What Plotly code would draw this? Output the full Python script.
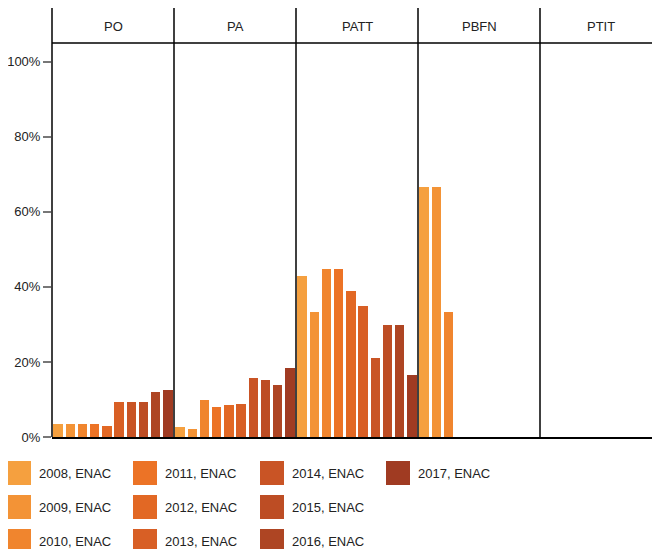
import plotly.graph_objects as go
from plotly.subplots import make_subplots

# data (percent)
facets = ["PO", "PA", "PATT", "PBFN", "PTIT"]
years = [2008, 2009, 2010, 2011, 2012, 2013, 2014, 2015, 2016, 2017]
po_vals = [3.5, 3.5, 3.5, 3.5, 2.9, 9.3, 9.3, 9.3, 12.0, 12.5]
pa_vals = [2.7, 2.1, 9.9, 8.0, 8.5, 8.8, 15.7, 15.2, 13.9, 18.4]
patt_vals = [42.9, 33.3, 44.8, 44.8, 38.9, 34.9, 21.1, 29.9, 29.9, 16.5]
pbfn_vals = [66.7, 66.7, 33.3, None, None, None, None, None, None, None]
ptit_vals = [None] * 10
facet_vals = [po_vals, pa_vals, patt_vals, pbfn_vals, ptit_vals]
colors = ["#F5A03F", "#F39336", "#F0852E", "#EC7326", "#E26824",
          "#D85F25", "#C95425", "#BD4D24", "#AE4523", "#A03B22"]
labels = [f"{y}, ENAC" for y in years]

FONT = "Liberation Sans, Arial, sans-serif"
OFF = 8  # page margin around the plot div
W, H = 654, 541
L, R, T, B = 44, 0, 35, 112
pw, ph = W - L - R, H - T - B


# screen pixel -> paper coords
def px_x(x):
    return (x - OFF - L) / pw


def px_y(y):
    return (H - B - (y - OFF)) / ph


fig = make_subplots(rows=1, cols=5, shared_yaxes=True, horizontal_spacing=0)

for c, vals in enumerate(facet_vals):
    for i, y in enumerate(years):
        fig.add_trace(go.Bar(x=[y], y=[vals[i]], width=0.78, marker_color=colors[i],
                             marker_line_width=0, name=labels[i], showlegend=False,
                             hoverinfo="skip"), row=1, col=c + 1)

fig.update_xaxes(range=[2007.5, 2017.5], showticklabels=False, ticks="", showgrid=False,
                 zeroline=False, showline=True, linecolor="black", linewidth=2)
fig.update_yaxes(range=[0, 105], showgrid=False, zeroline=False)
fig.update_yaxes(tickvals=[0, 20, 40, 60, 80, 100],
                 ticktext=["0%", "20%", "40%", "60%", "80%", "100%"],
                 ticks="outside", ticklen=8, tickcolor="#777", tickwidth=1.5,
                 tickfont=dict(family=FONT, size=13, color="#222"),
                 showline=False, row=1, col=1)

shapes = []
top = px_y(8)
# facet separators
for k in range(5):
    shapes.append(dict(type="line", xref="paper", yref="paper", x0=k / 5, x1=k / 5,
                       y0=0, y1=top, line=dict(color="black", width=1.5)))
shapes.append(dict(type="line", xref="paper", yref="paper", x0=0, x1=1, y0=1, y1=1,
                   line=dict(color="black", width=1.5)))

annotations = []
for k, f in enumerate(facets):
    annotations.append(dict(xref="paper", yref="paper", x=(k + 0.5) / 5, y=px_y(26),
                            text=f, showarrow=False, xanchor="center", yanchor="middle",
                            font=dict(family=FONT, size=13, color="#222")))

# legend laid out column by column
col_x = [8, 133, 260, 386]
row_y = [461, 495, 529]
for i, lab in enumerate(labels):
    cx, ry = col_x[i // 3], row_y[i % 3]
    shapes.append(dict(type="rect", xref="paper", yref="paper",
                       x0=px_x(cx), x1=px_x(cx + 23 if i < 3 else cx + 24),
                       y0=px_y(ry), y1=px_y(ry + 24),
                       fillcolor=colors[i], line=dict(width=0)))
    annotations.append(dict(xref="paper", yref="paper", x=px_x(cx + 29 if i < 3 else cx + 30),
                            y=px_y(ry + 12),
                            text=lab, showarrow=False, xanchor="left", yanchor="middle",
                            font=dict(family=FONT, size=13, color="#222")))

fig.update_layout(width=W, height=H, margin=dict(l=L, r=R, t=T, b=B),
                  plot_bgcolor="white", paper_bgcolor="white", showlegend=False,
                  shapes=shapes, annotations=annotations, bargap=0)

fig.write_html("out.html")
